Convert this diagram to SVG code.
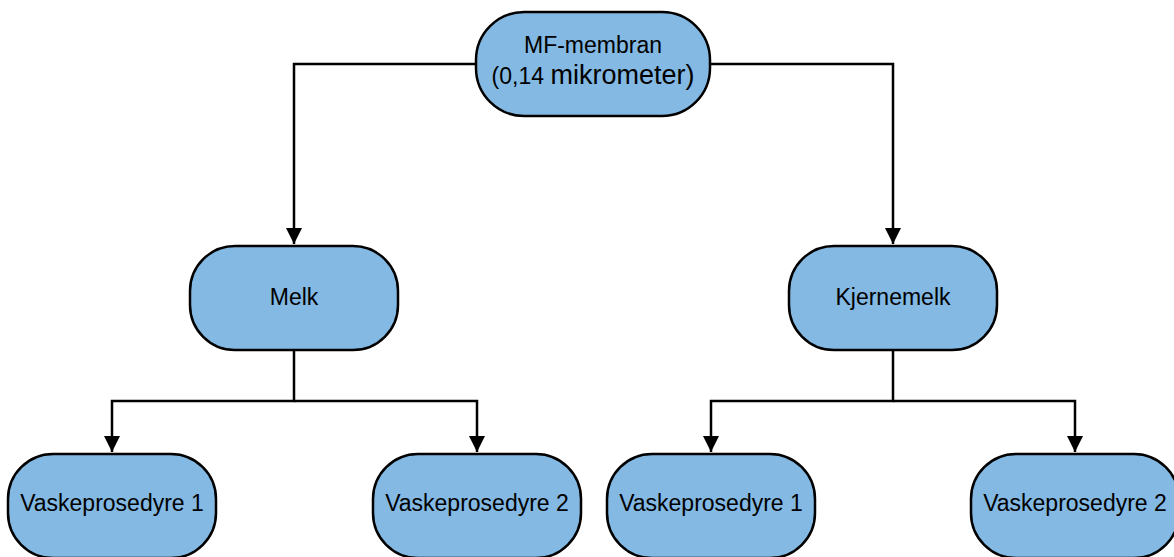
<svg xmlns="http://www.w3.org/2000/svg" width="1174" height="557" viewBox="0 0 1174 557">
<style>
.n{fill:#83B9E3;stroke:#000;stroke-width:2.5}
.t{font-family:"Liberation Sans",Arial,sans-serif;font-size:23px;fill:#000;text-anchor:middle}
.c{fill:none;stroke:#000;stroke-width:2.5}
</style>
<defs>
<marker id="ah" markerUnits="userSpaceOnUse" markerWidth="16" markerHeight="22" refX="16" refY="8" orient="auto">
<path d="M0,0 L16,8 L0,16 Z" fill="#000"/>
</marker>
</defs>
<g id="connectors">
<path class="c" d="M476,64 H294 V244" marker-end="url(#ah)"/>
<path class="c" d="M710,64 H893 V244" marker-end="url(#ah)"/>
<path class="c" d="M294,350 V401 H112 V452" marker-end="url(#ah)"/>
<path class="c" d="M294,401 H477 V452" marker-end="url(#ah)"/>
<path class="c" d="M893,350 V401 H711 V452" marker-end="url(#ah)"/>
<path class="c" d="M893,401 H1075 V452" marker-end="url(#ah)"/>
</g>
<g id="top">
<rect class="n" x="476" y="12" width="234" height="104" rx="48" ry="48"/>
<text class="t" x="593" y="53">MF-membran</text>
<text class="t" x="593" y="84">(0,14 <tspan font-size="27">mikrometer)</tspan></text>
</g>
<g id="melk">
<rect class="n" x="190" y="246" width="208" height="104" rx="45" ry="45"/>
<text class="t" x="294" y="305">Melk</text>
</g>
<g id="kjernemelk">
<rect class="n" x="789" y="246" width="208" height="104" rx="45" ry="45"/>
<text class="t" x="893" y="305">Kjernemelk</text>
</g>
<g id="v1a">
<rect class="n" x="8" y="454" width="208" height="104" rx="45" ry="45"/>
<text class="t" x="112" y="511">Vaskeprosedyre 1</text>
</g>
<g id="v2a">
<rect class="n" x="373" y="454" width="208" height="104" rx="45" ry="45"/>
<text class="t" x="477" y="511">Vaskeprosedyre 2</text>
</g>
<g id="v1b">
<rect class="n" x="607" y="454" width="208" height="104" rx="45" ry="45"/>
<text class="t" x="711" y="511">Vaskeprosedyre 1</text>
</g>
<g id="v2b">
<rect class="n" x="971" y="454" width="208" height="104" rx="45" ry="45"/>
<text class="t" x="1075" y="511">Vaskeprosedyre 2</text>
</g>
</svg>
